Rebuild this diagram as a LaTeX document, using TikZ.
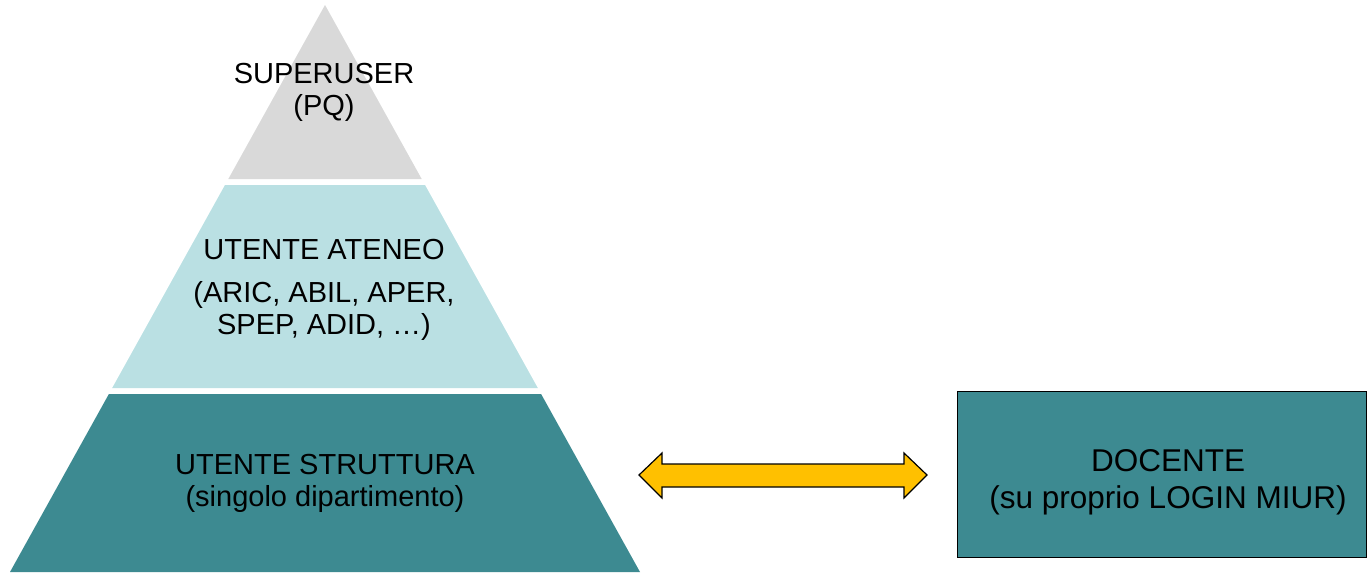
\documentclass[tikz,border=0pt]{standalone}
\usepackage{fontspec}
\setmainfont{Liberation Sans}
\definecolor{topgray}{HTML}{D9D9D9}
\definecolor{midteal}{HTML}{BAE0E3}
\definecolor{darkteal}{HTML}{3D8A91}
\definecolor{arrowyellow}{HTML}{FFC000}
\tikzset{
  pyrtext/.style={align=center, font=\fontsize{29}{32}\selectfont, inner sep=0pt},
  boxtext/.style={align=center, font=\fontsize{31.5}{37}\selectfont, inner sep=0pt},
}
\begin{document}
\begin{tikzpicture}[x=1pt,y=-1pt]
\useasboundingbox (0,0) rectangle (1368,574);
% pyramid slices
\fill[topgray] (325,5) -- (421.7,179) -- (228.3,179) -- cycle;
\fill[midteal] (225,185) -- (425,185) -- (537.8,388) -- (112.2,388) -- cycle;
\fill[darkteal] (108.9,394) -- (541.1,394) -- (640,572) -- (10,572) -- cycle;
% texts
\node[pyrtext] (su) at (324,92) {SUPERUSER\\(PQ)};
\node[pyrtext] (ua) at (324,250) {UTENTE ATENEO};
\node[pyrtext] (uab) at (324,311) {(ARIC, ABIL, APER,\\SPEP, ADID, \dots)};
\node[pyrtext] (us) at (325,483) {UTENTE STRUTTURA\\(singolo dipartimento)};
% docente box
\node[draw=black, line width=1.5pt, fill=darkteal, minimum width=409pt, minimum height=166pt, inner sep=0pt] (doc) at (1162,474.5) {};
\node[boxtext] (doct) at (1168,482) {DOCENTE\\(su proprio LOGIN MIUR)};
% double arrow
\filldraw[fill=arrowyellow, draw=black, line width=1.2pt, line join=miter]
  (639,475) -- (662,453) -- (662,464) -- (904,464) -- (904,453) -- (927,475)
  -- (904,498) -- (904,487) -- (662,487) -- (662,498) -- cycle;
\end{tikzpicture}
\end{document}
